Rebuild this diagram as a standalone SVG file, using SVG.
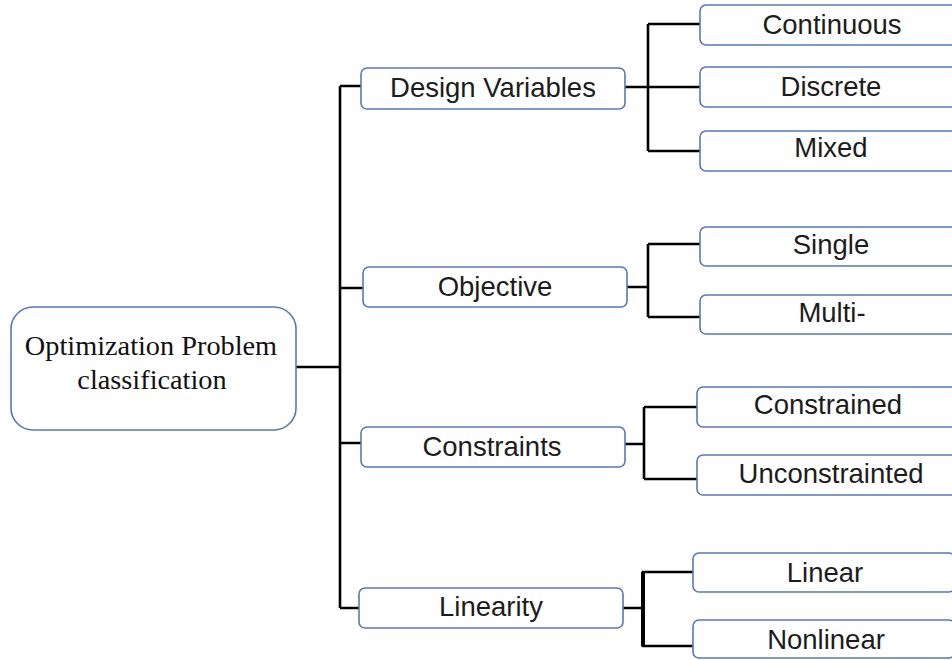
<svg xmlns="http://www.w3.org/2000/svg" width="952" height="660" viewBox="0 0 952 660">
<style>
.box{fill:#fff;stroke:#5578BA;stroke-width:1.6}
.lbl{font-family:"Liberation Sans",Arial,sans-serif;font-size:27.5px;fill:#1c1c1c;text-anchor:middle}
.root{font-family:"Liberation Serif","Times New Roman",serif;font-size:28.3px;fill:#111;text-anchor:middle}
.ln{fill:none;stroke:#000;stroke-width:2.6;stroke-linejoin:miter;stroke-linecap:butt}
</style>
<rect width="952" height="660" fill="#fff"/>
<g id="connectors">
<path class="ln" d="M296,367 H340 M340,86 V608 M340,86 H361 M340,288 H363 M340,443 H361 M340,608 H359"/>
<path class="ln" d="M625,87 H648 M648,24 V151 M648,24 H700 M648,87 H700 M648,151 H700"/>
<path class="ln" d="M627,287 H648 M648,244 V317 M648,244 H700 M648,317 H700"/>
<path class="ln" d="M625,444 H644 M644,407 V479 M644,407 H697 M644,479 H697"/>
<path class="ln" d="M623,608 H643 M693,572 H643 V646 H693"/>
<path class="ln" style="stroke-width:4" d="M643,572 V646"/>
</g>
<g id="root">
<rect class="box" x="11" y="307" width="285" height="123" rx="22"/>
<text class="root" x="151" y="355">Optimization Problem</text>
<text class="root" x="152" y="389">classification</text>
</g>
<g id="design-variables">
<rect class="box" x="361" y="68" width="264" height="41" rx="6"/>
<text class="lbl" x="493" y="97">Design Variables</text>
</g>
<g id="objective">
<rect class="box" x="363" y="267" width="264" height="40" rx="6"/>
<text class="lbl" x="495" y="296">Objective</text>
</g>
<g id="constraints">
<rect class="box" x="361" y="427" width="264" height="40" rx="6"/>
<text class="lbl" x="492" y="456">Constraints</text>
</g>
<g id="linearity">
<rect class="box" x="359" y="588" width="264" height="40" rx="6"/>
<text class="lbl" x="491" y="616">Linearity</text>
</g>
<g id="continuous">
<rect class="box" x="700" y="5" width="262" height="40" rx="6"/>
<text class="lbl" x="832" y="34">Continuous</text>
</g>
<g id="discrete">
<rect class="box" x="700" y="67" width="262" height="40" rx="6"/>
<text class="lbl" x="831" y="96">Discrete</text>
</g>
<g id="mixed">
<rect class="box" x="700" y="131" width="262" height="40" rx="6"/>
<text class="lbl" x="831" y="157">Mixed</text>
</g>
<g id="single">
<rect class="box" x="700" y="227" width="262" height="39" rx="6"/>
<text class="lbl" x="831" y="254">Single</text>
</g>
<g id="multi">
<rect class="box" x="700" y="295" width="262" height="39" rx="6"/>
<text class="lbl" x="832" y="322">Multi-</text>
</g>
<g id="constrained">
<rect class="box" x="697" y="387" width="262" height="40" rx="6"/>
<text class="lbl" x="828" y="414">Constrained</text>
</g>
<g id="unconstrainted">
<rect class="box" x="697" y="455" width="262" height="40" rx="6"/>
<text class="lbl" x="831" y="483">Unconstrainted</text>
</g>
<g id="linear">
<rect class="box" x="693" y="553" width="262" height="39" rx="6"/>
<text class="lbl" x="825" y="582">Linear</text>
</g>
<g id="nonlinear">
<rect class="box" x="693" y="620" width="262" height="38" rx="6"/>
<text class="lbl" x="826" y="649">Nonlinear</text>
</g>
</svg>
